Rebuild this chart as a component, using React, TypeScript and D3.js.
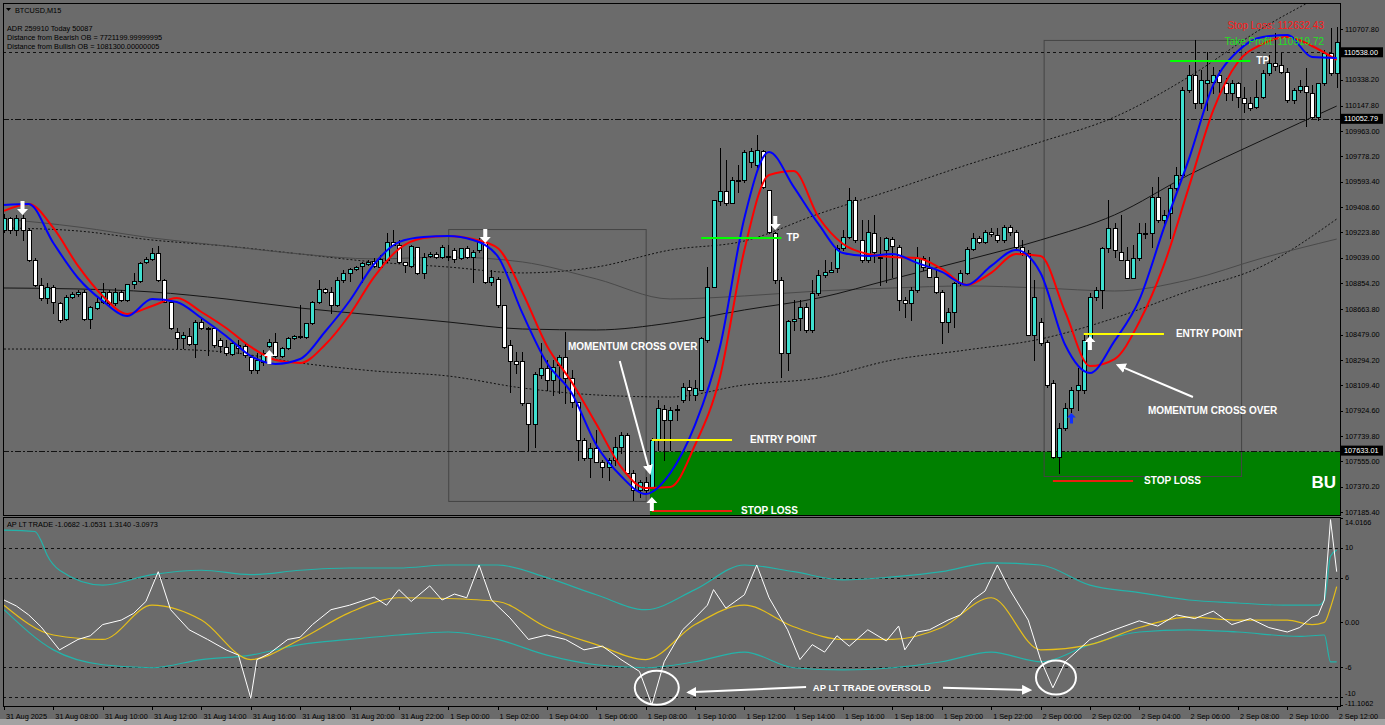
import * as d3 from "d3";

const W = 1385;
const H = 725;
const pane = { left: 3, right: 1340, top: 3, mainBottom: 515, oscTop: 517, oscBottom: 706 };
const font = "'Liberation Sans', Arial, sans-serif";

// BTCUSD M15, bar 0 = 31 Aug 06:00. [open, high, low, close]
const candles: [number, number, number, number][] = [
  [109242,109359,109227,109330],[109330,109337,109220,109242],[109242,109351,109206,109330],[109330,109351,109169,109242],
  [109242,109257,109016,109023],[109023,109038,108834,108841],[108841,108892,108732,108746],[108746,108856,108710,108826],
  [108826,108841,108637,108717],[108710,108717,108571,108586],[108593,108768,108586,108753],[108753,108790,108746,108775],
  [108775,108805,108761,108790],[108790,108805,108586,108593],[108593,108688,108527,108680],[108673,108753,108666,108717],
  [108717,108856,108710,108790],[108790,108805,108695,108710],[108710,108819,108695,108790],[108790,108805,108724,108732],
  [108732,108848,108724,108848],[108848,108929,108819,108870],[108870,109009,108863,109002],[109009,109045,109002,109031],
  [109031,109111,109023,109074],[109074,109125,108870,108878],[108878,108885,108717,108717],[108717,108732,108520,108527],
  [108498,108527,108381,108454],[108454,108498,108381,108476],[108469,108527,108403,108411],[108411,108586,108316,108571],
  [108571,108600,108520,108527],[108527,108535,108330,108520],[108527,108535,108389,108403],[108440,108454,108352,108396],
  [108389,108440,108330,108345],[108338,108425,108330,108418],[108403,108440,108345,108381],[108396,108418,108316,108330],
  [108316,108330,108199,108221],[108221,108345,108199,108294],[108279,108367,108257,108345],[108396,108447,108389,108425],
  [108425,108491,108316,108323],[108323,108389,108316,108381],[108381,108462,108374,108454],[108454,108476,108447,108469],
  [108462,108695,108454,108466],[108462,108564,108454,108564],[108564,108724,108557,108717],[108717,108878,108710,108812],
  [108812,108819,108783,108790],[108790,108826,108637,108695],[108695,108900,108688,108878],[108878,108950,108863,108929],
  [108929,108965,108870,108958],[108958,108980,108950,108972],[108980,109009,108863,109002],[108994,109023,108987,109009],
  [109016,109038,108972,108980],[108972,109060,108965,109031],[109023,109220,109009,109154],[109154,109242,109133,109133],
  [109133,109169,109002,109009],[109009,109009,108936,108987],[108980,109133,108972,109125],[109118,109118,108921,108929],
  [108929,109074,108892,109045],[109052,109082,109045,109067],[109067,109082,109038,109045],[109045,109133,109038,109118],
  [109052,109133,109023,109045],[109096,109111,109009,109031],[109038,109111,109031,109111],[109111,109125,109038,109045],
  [109045,109096,108863,109082],[109096,109184,109082,109154],[109154,109191,108856,108863],[108863,108950,108841,108900],
  [108885,108900,108680,108695],[108695,108695,108381,108389],[108403,108440,108061,108283],[108283,108352,108199,108265],
  [108283,108352,107966,107980],[107980,107980,107638,107827],[107827,108206,107659,108192],[108184,108418,108162,108235],
  [108235,108294,108075,108148],[108148,108294,108039,108243],[108257,108330,108053,108316],[108316,108498,107980,108162],
  [108162,108221,107951,107988],[107988,107988,107565,107711],[107711,107725,107565,107579],[107579,107689,107441,107652],
  [107652,107784,107557,107550],[107550,107565,107441,107514],[107514,107579,107419,107565],[107565,107732,107528,107659],
  [107659,107769,107616,107747],[107747,107762,107455,107470],[107470,107492,107273,107346],[107346,107419,107295,107404],
  [107404,107441,107324,107346],[107368,107725,107360,107711],[107711,108002,107638,107944],[107937,107966,107565,107856],
  [107856,107951,107638,107929],[107929,107966,107856,107937],[108002,108126,107988,108097],[108097,108148,108002,108075],
  [108039,108148,108002,108090],[108075,108462,108075,108454],[108440,108972,108425,108826],[108826,109461,108826,109461],
  [109454,109840,109424,109527],[109527,109753,109424,109439],[109439,109629,109439,109607],[109607,109716,109519,109600],
  [109607,109826,109592,109811],[109738,109840,109702,109818],[109716,109935,109702,109826],[109818,109826,109548,109556],
  [109534,109534,109220,109227],[109220,109227,108856,108878],[108878,108900,108170,108345],[108345,108586,108221,108579],
  [108579,108732,108513,108593],[108600,108732,108513,108680],[108680,108710,108498,108513],[108513,108878,108498,108783],
  [108783,108950,108768,108914],[108914,109023,108900,108936],[108936,109009,108936,108950],[108965,109133,108936,109111],
  [109111,109242,109096,109191],[109191,109548,109184,109461],[109461,109483,109154,109169],[109169,109315,109009,109023],
  [109023,109315,109009,109227],[109220,109351,109009,109082],[109045,109191,108841,109038],[109096,109191,108863,109184],
  [109176,109191,108900,109125],[109118,109133,108659,108732],[108732,108753,108608,108710],[108710,108826,108586,108805],
  [108805,109118,108790,109038],[109038,109052,108950,108972],[108965,109045,108900,108900],[108900,108950,108783,108790],
  [108790,108805,108418,108571],[108571,108673,108498,108644],[108644,108863,108535,108856],[108856,108950,108841,108929],
  [108929,109118,108921,109104],[109104,109220,109096,109184],[109184,109198,109147,109154],[109154,109242,109147,109227],
  [109227,109257,109198,109213],[109206,109257,109154,109169],[109169,109278,109154,109264],[109264,109278,109206,109227],
  [109227,109242,109096,109118],[109118,109169,109060,109074],[109074,109096,108476,108476],[108476,108878,108294,108753],
  [108571,108600,108403,108418],[108425,108440,108097,108112],[108126,108148,107579,107587],[107587,107835,107470,107798],
  [107798,107980,107784,107944],[107944,108097,107915,108075],[108075,108236,107929,108112],[108075,108491,108053,108440],
  [108440,108783,108440,108753],[108753,108826,108732,108805],[108805,109118,108673,109111],[109111,109461,109082,109257],
  [109257,109293,109045,109096],[109082,109351,109023,109023],[109023,109118,108892,108892],[108892,109133,108892,109038],
  [109038,109293,109023,109220],[109220,109293,109184,109213],[109220,109556,109118,109483],[109483,109629,109300,109315],
  [109315,109388,109278,109351],[109366,109570,109184,109548],[109548,109701,109534,109643],[109643,110285,109629,110263],
  [110263,110445,110249,110373],[110373,110628,110132,110168],[110168,110409,110132,110336],[110314,110540,110117,110336],
  [110321,110431,110241,110373],[110373,110409,110249,110321],[110314,110351,110190,110241],[110241,110336,110190,110314],
  [110314,110321,110139,110212],[110205,110285,110103,110168],[110168,110212,110117,110132],[110139,110336,110132,110212],
  [110212,110409,110205,110387],[110387,110518,110373,110460],[110460,110679,110409,110438],[110445,110533,110387,110395],
  [110395,110424,110176,110190],[110190,110278,110168,110263],[110263,110336,110249,110292],[110292,110424,110001,110249],
  [110241,110300,110059,110066],[110066,110314,110044,110314],[110314,110555,110300,110533],[110533,110715,110373,110387],
  [110387,110723,110285,110613],
];

// moving averages, one value every 4 bars
const maStep = 4;
const fastMa = [
  109424,109432,109147,108892,108724,108615,108739,108717,108600,108469,108323,108265,108301,108498,
  108724,108994,109154,109191,109198,109169,109052,108637,108272,108053,107674,107448,107317,107470,
  107820,108381,109330,109811,109556,109286,109074,109052,109067,109002,108936,108841,108980,109096,
  108929,108403,108199,108433,108732,109257,109753,110300,110548,110650,110664,110504,110497,
];
const slowMa = [
  109381,109432,109257,108980,108761,108630,108688,108746,108644,108527,108389,108294,108272,108403,
  108622,108900,109104,109184,109198,109176,109111,108790,108396,108134,107827,107514,107360,107368,
  107674,108163,109096,109643,109672,109337,109140,109067,109045,109038,108958,108841,108929,109067,
  109052,108644,108250,108301,108571,108987,109549,110117,110467,110599,110650,110584,110482,
];

// long averages and envelope, one value every 12 bars
const envStep = 12;
const longMa = [108819,108812,108790,108739,108673,108622,108571,108520,108513,108564,108659,108746,108885,109023,109169,109352,109643,109898,110146];
const midMa = [109322,109264,109184,109125,109067,109031,109045,109009,108885,108739,108761,108797,108819,108834,108819,108797,108878,109038,109176];
const upperEnv = [109257,109235,109169,109125,109067,109009,108972,108929,108972,109096,109162,109359,109534,109716,109884,110066,110358,110715,111007];
const lowerEnv = [108374,108374,108374,108352,108272,108214,108177,108090,108039,108024,108112,108163,108294,108367,108447,108600,108797,108980,109322];

const priceTicks = [110707.8,110523.0,110338.2,110147.8,109963.0,109778.2,109593.4,109408.6,109223.8,109039.0,108854.2,108663.8,108479.0,108294.2,108109.4,107924.6,107739.8,107555.0,107370.2,107185.4];
const priceLevels = [
  { price: 110538.0, label: "110538.00", dash: "3,3" },
  { price: 110052.79, label: "110052.79", dash: "6,2,2,2" },
  { price: 107633.01, label: "107633.01", dash: "6,2,2,2" },
];

const timeLabels = [
  "31 Aug 2025","31 Aug 08:00","31 Aug 10:00","31 Aug 12:00","31 Aug 14:00","31 Aug 16:00","31 Aug 18:00",
  "31 Aug 20:00","31 Aug 22:00","1 Sep 00:00","1 Sep 02:00","1 Sep 04:00","1 Sep 06:00","1 Sep 08:00",
  "1 Sep 10:00","1 Sep 12:00","1 Sep 14:00","1 Sep 16:00","1 Sep 18:00","1 Sep 20:00","1 Sep 22:00",
  "2 Sep 00:00","2 Sep 02:00","2 Sep 04:00","2 Sep 06:00","2 Sep 08:00","2 Sep 10:00","2 Sep 12:00",
];

// AP LT TRADE oscillator, [bar, value]
const oscMain: [number, number][] = [
  [0,3.0],[2,2.2],[4,1.0],[6,-0.6],[9,-3.7],[12,-2.3],[14,-1.8],[16,-0.3],[19,0.3],[21,1.2],[23,2.8],[25,6.8],
  [27,1.7],[30,-1.0],[33,-2.3],[36,-3.7],[38,-4.4],[40,-10.2],[41,-5.0],[43,-4.2],[46,-2.3],[48,-2.0],[50,-0.3],
  [53,1.7],[56,2.3],[60,3.4],[62,2.3],[64,4.4],[66,2.8],[69,4.9],[71,3.0],[73,3.8],[75,3.3],[77,7.7],[79,3.0],
  [82,0.6],[85,-2.3],[88,-1.7],[91,-2.3],[94,-3.7],[97,-3.2],[100,-5.0],[103,-6.6],[105,-11.1],[107,-5.3],
  [110,-1.0],[112,0.6],[114,2.3],[115,4.4],[117,1.9],[120,3.7],[122,7.7],[124,3.3],[127,-1.0],[129,-5.0],
  [131,-3.0],[133,-4.0],[135,-1.8],[137,-3.2],[140,-1.0],[143,-2.5],[145,-0.5],[146,-3.7],[148,-1.3],[150,-1.0],
  [153,0.3],[155,1.0],[157,3.0],[159,4.2],[161,7.7],[163,4.4],[166,0.3],[168,-5.0],[170,-8.8],[172,-5.3],
  [176,-2.3],[180,-1.0],[184,0.2],[187,-0.5],[190,1.0],[193,0.5],[196,1.5],[199,-0.3],[202,0.5],[205,-0.7],
  [208,-1.3],[210,-0.7],[212,0.7],[213,1.0],[214,3.0],[215,13.8],[216,6.8],
];
const oscSignal: [number, number][] = [
  [0,2.3],[8,-1.7],[16,-2.3],[24,2.3],[32,0.3],[40,-5.0],[48,-2.3],[56,1.3],[64,3.3],[72,3.2],[80,2.8],[88,-0.7],
  [96,-3.0],[104,-5.0],[112,-0.3],[120,2.3],[128,-0.6],[136,-2.3],[144,-2.3],[152,-0.7],[160,3.3],[168,-3.7],
  [176,-3.0],[184,-0.7],[192,0.7],[200,0.3],[208,0.3],[212,-0.3],[214,0.0],[215,2.0],[216,4.8],
];
const oscUpper: [number, number][] = [
  [0,12.4],[5,12.2],[6,11.0],[7,9.0],[9,7.0],[16,5.0],[24,6.4],[32,7.0],[40,6.4],[48,7.0],[56,7.3],[64,7.3],
  [72,7.7],[80,7.7],[88,6.0],[96,3.7],[104,1.7],[112,4.4],[120,7.7],[128,6.8],[136,5.7],[144,6.1],[152,6.8],
  [160,8.0],[168,7.7],[176,5.0],[184,4.0],[192,3.0],[200,2.6],[208,2.3],[213,2.3],[214,3.0],[215,8.9],[216,9.7],
];
const oscLower: [number, number][] = [
  [0,1.7],[8,-3.7],[16,-5.7],[24,-6.1],[32,-5.0],[40,-4.4],[48,-3.0],[56,-2.3],[64,-1.7],[72,-1.3],[80,-2.3],
  [88,-4.4],[96,-5.7],[104,-6.1],[112,-5.3],[120,-4.0],[128,-6.1],[136,-6.4],[144,-6.1],[152,-5.3],[160,-4.0],
  [168,-5.3],[176,-3.0],[184,-1.3],[192,-1.0],[200,-1.3],[210,-1.9],[214,-1.7],[215,-5.3],[216,-5.3],
];
const oscTicks = [
  { v: 14.0166, label: "14.0166" }, { v: 10, label: "10" }, { v: 6, label: "6" }, { v: 0, label: "0.00" },
  { v: -6, label: "-6" }, { v: -10, label: "-10" }, { v: -11.1062, label: "-11.1062" },
];
const oscLevels = [10, 6, -6, -10];

// trade markup
const downSignals = [{ bar: 3, price: 109351 }, { bar: 78, price: 109147 }, { bar: 125, price: 109242 }];
const upSignals = [{ bar: 43, price: 108367 }, { bar: 105, price: 107295 }, { bar: 176, price: 108469 }];
const blueSignals = [{ bar: 173, price: 107907 }];
const boxes = [
  { from: 72, to: 104, top: 109249, bottom: 107266 },
  { from: 168.5, to: 200.5, top: 110628, bottom: 107448 },
];
const zone = { from: 104.7, top: 107625, bottom: 107100, label: "BU" };
const tradeLines = [
  { from: 105, to: 118, price: 107711, color: "#ffff00", label: "ENTRY POINT", gap: 18 },
  { from: 175, to: 188, price: 108484, color: "#ffff00", label: "ENTRY POINT", gap: 12 },
  { from: 113, to: 126, price: 109184, color: "#00ff00", label: "TP", gap: 5 },
  { from: 189, to: 202, price: 110475, color: "#00ff00", label: "TP", gap: 6 },
  { from: 105, to: 118, price: 107193, color: "#e8200f", label: "STOP LOSS", gap: 9 },
  { from: 170, to: 183, price: 107412, color: "#e8200f", label: "STOP LOSS", gap: 11 },
];
const crossNotes = [
  { text: "MOMENTUM CROSS OVER", bar: 91.4, price: 108367, from: [99.8, 108286], to: [104.7, 107470] },
  { text: "MOMENTUM CROSS OVER", bar: 185.4, price: 107900, from: [192.7, 108024], to: [180.5, 108257] },
];
const oversold = [{ bar: 105.8, v: -8.8, rx: 22, ry: 17 }, { bar: 170.5, v: -7.4, rx: 20, ry: 17 }];

export default function App() {
  const x = d3.scaleLinear().domain([0, 216]).range([4, 1336.7]);
  const y = d3.scaleLinear().domain([107185.4, 110707.8]).range([512, 29]);
  const yo = d3.scaleLinear().domain([-11.1062, 14.0166]).range([705, 518]);

  const priceLine = d3.line<[number, number]>().x(d => x(d[0])).y(d => y(d[1])).curve(d3.curveMonotoneX);
  const oscLine = d3.line<[number, number]>().x(d => x(d[0])).y(d => yo(d[1]));
  const oscSmooth = d3.line<[number, number]>().x(d => x(d[0])).y(d => yo(d[1])).curve(d3.curveMonotoneX);
  const stepped = (vals: number[], step: number) => vals.map((v, i) => [i * step, v] as [number, number]);

  const arrowUp = "M0,0 L5.5,6 L2,6 L2,14 L-2,14 L-2,6 L-5.5,6 Z";
  const txt = { fontFamily: font, fontSize: 7.3, fill: "#000" };
  const bold = { fontFamily: font, fontSize: 10, fontWeight: 700, fill: "#fff" };
  // keep the two bottom oscillator labels from sitting on each other
  const oscLabelY = (v: number) => (v === -10 ? 693 : v < -10 ? 703 : Math.max(yo(v), 522));

  return (
    <svg width={W} height={H} style={{ position: "absolute", left: 0, top: 0, display: "block" }}>
      <defs>
        <clipPath id="mainClip">
          <rect x={pane.left} y={pane.top} width={pane.right - pane.left} height={pane.mainBottom - pane.top} />
        </clipPath>
        <clipPath id="oscClip">
          <rect x={pane.left} y={pane.oscTop} width={pane.right - pane.left} height={pane.oscBottom - pane.oscTop} />
        </clipPath>
        <marker id="head" viewBox="0 0 10 10" refX="8" refY="5" markerWidth="5" markerHeight="5" orient="auto">
          <path d="M0,0 L10,5 L0,10 Z" fill="#fff" />
        </marker>
      </defs>
      <rect width={W} height={H} fill="#6b6b6b" />
      <rect x={0} y={719} width={W} height={6} fill="#a3a3a3" />

      <g clipPath="url(#mainClip)">
        <rect x={x(zone.from)} y={y(zone.top)} width={pane.right - x(zone.from)} height={y(zone.bottom) - y(zone.top)} fill="#008000" />
        {boxes.map((b, i) => (
          <rect key={i} x={x(b.from) + 0.5} y={y(b.top) + 0.5} width={x(b.to) - x(b.from)} height={y(b.bottom) - y(b.top)}
            fill="none" stroke="#454545" strokeWidth={1} />
        ))}
        <path d={priceLine(stepped(upperEnv, envStep)) ?? ""} fill="none" stroke="#111" strokeDasharray="2,2" />
        <path d={priceLine(stepped(lowerEnv, envStep)) ?? ""} fill="none" stroke="#111" strokeDasharray="2,2" />
        <path d={priceLine(stepped(midMa, envStep)) ?? ""} fill="none" stroke="#4a4a4a" />
        <path d={priceLine(stepped(longMa, envStep)) ?? ""} fill="none" stroke="#141414" />
        {priceLevels.map((l, i) => (
          <line key={i} x1={pane.left} x2={pane.right} y1={Math.round(y(l.price)) + 0.5} y2={Math.round(y(l.price)) + 0.5}
            stroke="#111" strokeDasharray={l.dash} />
        ))}

        {candles.map(([o, h, l, c], i) => {
          const cx = Math.round(x(i));
          const top = Math.round(y(Math.max(o, c)));
          const bot = Math.round(y(Math.min(o, c)));
          return (
            <g key={i}>
              <line x1={cx + 0.5} x2={cx + 0.5} y1={Math.round(y(h))} y2={Math.round(y(l)) + 1} stroke="#000" />
              <rect x={cx - 1.5} y={top + 0.5} width={4} height={Math.max(bot - top, 1)}
                fill={c > o ? "#3fe0d0" : "#ffffff"} stroke="#000" strokeWidth={1} />
            </g>
          );
        })}

        <path d={priceLine(stepped(slowMa, maStep)) ?? ""} fill="none" stroke="#ff0000" strokeWidth={2} />
        <path d={priceLine(stepped(fastMa, maStep)) ?? ""} fill="none" stroke="#0000ff" strokeWidth={2} />

        {tradeLines.map((t, i) => (
          <g key={i}>
            <line x1={x(t.from)} x2={x(t.to)} y1={y(t.price)} y2={y(t.price)} stroke={t.color} strokeWidth={2} />
            <text x={x(t.to) + t.gap} y={y(t.price)} dy="0.35em" style={bold}>{t.label}</text>
          </g>
        ))}
        {crossNotes.map((n, i) => (
          <g key={i}>
            <text x={x(n.bar)} y={y(n.price)} style={bold}>{n.text}</text>
            <line x1={x(n.from[0])} y1={y(n.from[1])} x2={x(n.to[0])} y2={y(n.to[1])} stroke="#fff" strokeWidth={2} markerEnd="url(#head)" />
          </g>
        ))}
        {upSignals.map((s, i) => (
          <path key={i} d={arrowUp} transform={`translate(${x(s.bar)},${y(s.price)})`} fill="#fff" />
        ))}
        {downSignals.map((s, i) => (
          <path key={i} d={arrowUp} transform={`translate(${x(s.bar)},${y(s.price)}) scale(1,-1)`} fill="#fff" />
        ))}
        {blueSignals.map((s, i) => (
          <path key={i} d={arrowUp} transform={`translate(${x(s.bar)},${y(s.price)}) scale(0.8,0.75)`} fill="#1030ff" />
        ))}
        <text x={pane.right - 4} y={(y(zone.top) + y(107185.4)) / 2} dy="0.35em" textAnchor="end"
          style={{ fontFamily: font, fontSize: 17, fontWeight: 700, fill: "#fff" }}>{zone.label}</text>
      </g>

      {/* oscillator pane */}
      <g clipPath="url(#oscClip)">
        {oscLevels.map(v => (
          <line key={v} x1={pane.left} x2={pane.right} y1={Math.round(yo(v)) + 0.5} y2={Math.round(yo(v)) + 0.5}
            stroke="#111" strokeDasharray="3,3" />
        ))}
        <path d={oscSmooth(oscUpper) ?? ""} fill="none" stroke="#24b3aa" strokeWidth={1.2} />
        <path d={oscSmooth(oscLower) ?? ""} fill="none" stroke="#24b3aa" strokeWidth={1.2} />
        <path d={oscSmooth(oscSignal) ?? ""} fill="none" stroke="#e6bf1a" strokeWidth={1.2} />
        <path d={oscLine(oscMain) ?? ""} fill="none" stroke="#fff" strokeWidth={1} />
        {oversold.map((o, i) => (
          <ellipse key={i} cx={x(o.bar)} cy={yo(o.v)} rx={o.rx} ry={o.ry} fill="none" stroke="#fff" strokeWidth={2} />
        ))}
        <text x={x(131.1)} y={yo(-8.8)} dy="0.35em" style={{ ...bold, fontSize: 9.5 }}>AP LT TRADE OVERSOLD</text>
        <line x1={x(130)} y1={yo(-8.7)} x2={x(110.9)} y2={yo(-9.4)} stroke="#fff" strokeWidth={2} markerEnd="url(#head)" />
        <line x1={x(152.2)} y1={yo(-8.8)} x2={x(166.3)} y2={yo(-9.1)} stroke="#fff" strokeWidth={2} markerEnd="url(#head)" />
      </g>

      {/* frames */}
      <rect x={pane.left + 0.5} y={pane.top + 0.5} width={pane.right - pane.left} height={pane.mainBottom - pane.top} fill="none" stroke="#000" />
      <rect x={pane.left + 0.5} y={pane.oscTop + 0.5} width={pane.right - pane.left} height={pane.oscBottom - pane.oscTop} fill="none" stroke="#000" />

      {/* price axis */}
      {priceTicks.map((p, i) => (
        <g key={i}>
          <line x1={pane.right} x2={pane.right + 3} y1={Math.round(y(p)) + 0.5} y2={Math.round(y(p)) + 0.5} stroke="#000" />
          <text x={pane.right + 5} y={y(p)} dy="0.35em" style={txt}>{p.toFixed(2)}</text>
        </g>
      ))}
      {priceLevels.map((l, i) => (
        <g key={i}>
          <rect x={pane.right + 1} y={y(l.price) - 5} width={42} height={10} fill="#000" />
          <text x={pane.right + 4} y={y(l.price)} dy="0.35em" style={{ ...txt, fill: "#fff" }}>{l.label}</text>
        </g>
      ))}

      {/* oscillator axis */}
      {oscTicks.map((t, i) => (
        <g key={i}>
          <line x1={pane.right} x2={pane.right + 3} y1={Math.round(yo(t.v)) + 0.5} y2={Math.round(yo(t.v)) + 0.5} stroke="#000" />
          <text x={pane.right + 5} y={oscLabelY(t.v)} dy="0.35em" style={txt}>{t.label}</text>
        </g>
      ))}

      {/* time axis */}
      {timeLabels.map((t, i) => (
        <g key={i}>
          <line x1={Math.round(x(i * 8)) + 0.5} x2={Math.round(x(i * 8)) + 0.5} y1={pane.oscBottom} y2={pane.oscBottom + 4} stroke="#000" />
          <text x={x(i * 8) + 2} y={716} dy="0.35em" style={txt}>{t}</text>
        </g>
      ))}

      {/* header texts */}
      <path d="M6,8 L11,8 L8.5,11 Z" fill="#000" />
      <text x={15} y={10} dy="0.35em" style={txt}>BTCUSD,M15</text>
      <text x={7} y={28} dy="0.35em" style={txt}>ADR 259910  Today 50087</text>
      <text x={7} y={37} dy="0.35em" style={txt}>Distance from Bearish OB = 7721199.99999995</text>
      <text x={7} y={46} dy="0.35em" style={txt}>Distance from Bullish OB = 1081300.00000005</text>
      <text x={1324} y={25} dy="0.35em" textAnchor="end" style={{ fontFamily: font, fontSize: 10, fill: "#ff1a1a" }}>Stop Loss: 112632.43</text>
      <text x={1324} y={41} dy="0.35em" textAnchor="end" style={{ fontFamily: font, fontSize: 10, fill: "#22e022" }}>Take Profit: 110919.72</text>
      <text x={7} y={524} dy="0.35em" style={txt}>AP LT TRADE -1.0682 -1.0531 1.3140 -3.0973</text>
    </svg>
  );
}
